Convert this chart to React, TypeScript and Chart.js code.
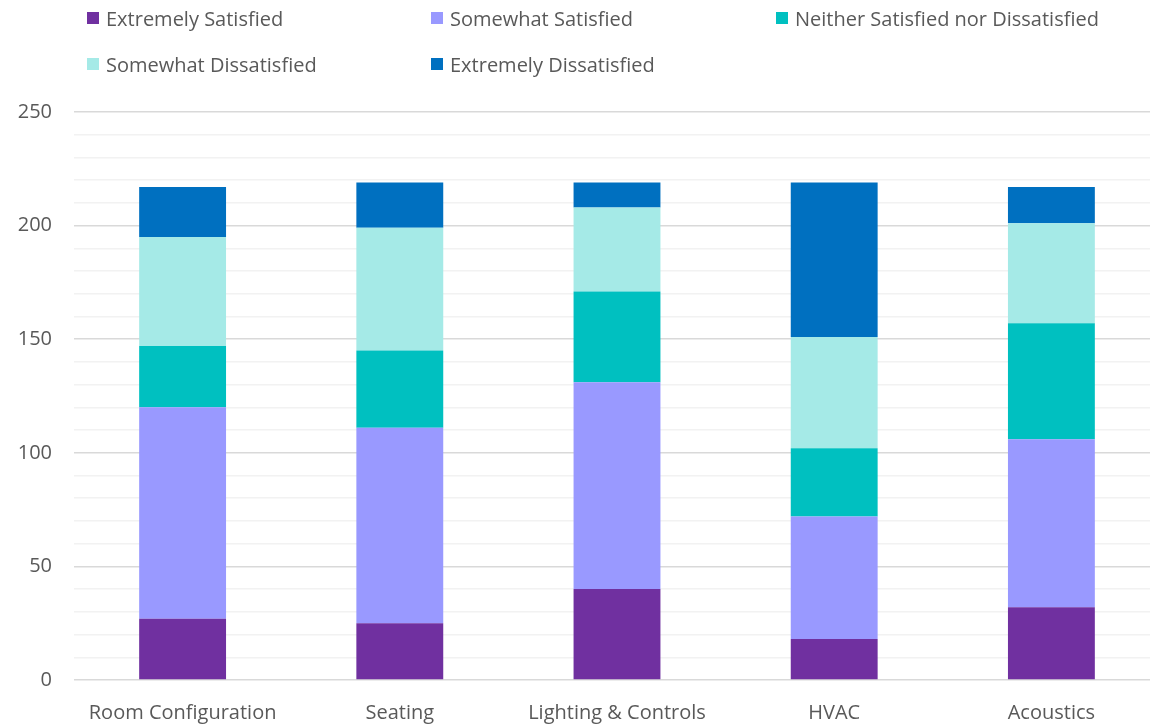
import React, { useEffect, useRef } from "react";
import { Chart, registerables } from "chart.js";

Chart.register(...registerables);

const categories = ["Room Configuration", "Seating", "Lighting & Controls", "HVAC", "Acoustics"];
const seriesNames = [
  "Extremely Satisfied",
  "Somewhat Satisfied",
  "Neither Satisfied nor Dissatisfied",
  "Somewhat Dissatisfied",
  "Extremely Dissatisfied",
];
const extremelySatisfied = [27, 25, 40, 18, 32];
const somewhatSatisfied = [93, 86, 91, 54, 74];
const neither = [27, 34, 40, 30, 51];
const somewhatDissatisfied = [48, 54, 37, 49, 44];
const extremelyDissatisfied = [22, 20, 11, 68, 16];
const seriesColors = ["#7030A0", "#9999FF", "#00C0C0", "#A5EAE7", "#0070C0"];

const FONT = "'Open Sans', sans-serif";
const TEXT = "#595959";

const legendPos = [
  { left: 87, top: 18 },
  { left: 431, top: 18 },
  { left: 776, top: 18 },
  { left: 87, top: 64 },
  { left: 431, top: 64 },
];

export default function App() {
  const ref = useRef<HTMLCanvasElement>(null);
  useEffect(() => {
    document.body.style.margin = "0";
    document.body.style.overflow = "hidden";
    const values = [extremelySatisfied, somewhatSatisfied, neither, somewhatDissatisfied, extremelyDissatisfied];
    const chart = new Chart(ref.current!, {
      type: "bar",
      data: {
        labels: categories,
        datasets: seriesNames.map((n, i) => ({
          label: n,
          data: values[i],
          backgroundColor: seriesColors[i],
          borderWidth: 0,
          barPercentage: 0.4,
          categoryPercentage: 1,
        })),
      },
      options: {
        animation: false,
        responsive: false,
        maintainAspectRatio: false,
        layout: { padding: { top: 112, left: 0, right: 0, bottom: 0 } },
        plugins: { legend: { display: false }, tooltip: { enabled: false } },
        scales: {
          x: {
            stacked: true,
            grid: { display: false },
            border: { display: false },
            afterFit: (s: any) => {
              s.height = 46;
            },
            ticks: { color: TEXT, font: { family: FONT, size: 20 }, padding: 13, maxRotation: 0 },
          },
          y: {
            stacked: true,
            min: 0,
            max: 250,
            border: { display: false },
            afterFit: (s: any) => {
              s.width = 74;
            },
            grid: {
              color: (ctx: any) => (ctx.tick && ctx.tick.value % 50 === 0 ? "#D9D9D9" : "#F2F2F2"),
              lineWidth: 1.5,
              drawTicks: false,
            },
            ticks: {
              stepSize: 10,
              autoSkip: false,
              padding: 22,
              color: TEXT,
              font: { family: FONT, size: 20 },
              callback: (v: any) => (Number(v) % 50 === 0 ? String(v) : ""),
            },
          },
        },
      },
    });
    return () => chart.destroy();
  }, []);
  return (
    <div style={{ position: "relative", width: 1160, height: 726, fontFamily: FONT }}>
      <canvas ref={ref} width={1160} height={726} style={{ position: "absolute", left: 0, top: 0 }} />
      {seriesNames.map((n, i) => (
        <div
          key={n}
          style={{
            position: "absolute",
            left: legendPos[i].left,
            top: legendPos[i].top - 14,
            height: 28,
            display: "flex",
            alignItems: "center",
            whiteSpace: "nowrap",
            color: TEXT,
            fontSize: 20,
          }}
        >
          <span style={{ display: "inline-block", width: 12, height: 12, background: seriesColors[i], marginRight: 7 }} />
          {n}
        </div>
      ))}
    </div>
  );
}
